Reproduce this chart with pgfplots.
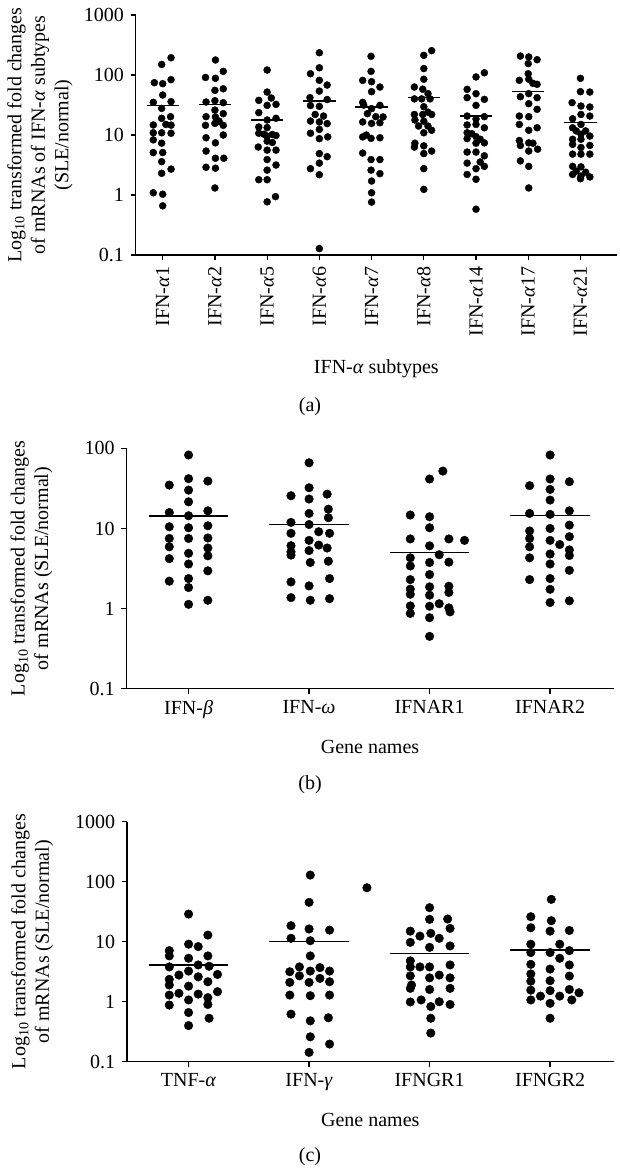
\documentclass[border=0pt]{standalone}
\usepackage{fontspec}
\setmainfont{Liberation Serif}
\usepackage{pgfplots}
\pgfplotsset{compat=1.18}
\usepackage{pgfplotstable}

% panel (a): g = subtype index, dx = horizontal scatter offset, y = fold change
\pgfplotstableread{
g dx y
0 0.16 194
0 -0.02 150
0 -0.16 74.5
0 0 71.7
0 0.16 83.6
0 0 46.4
0 -0.18 35
0 0.16 36
0 -0.02 27.8
0 0.15 20.2
0 -0.02 19
0 -0.18 14.7
0 0.06 15
0 0.16 14.6
0 -0.18 10.9
0 -0.02 10.9
0 0.16 10.7
0 -0.18 8.3
0 -0.02 7.3
0 -0.18 5.1
0 0 5.1
0 -0.02 3.6
0 -0.02 2.3
0 0.16 2.7
0 -0.18 1.09
0 0 1.03
0 0 0.66
1 0.01 178
1 0.16 115
1 -0.18 91
1 0.01 88
1 0.16 59
1 0 55.5
1 -0.17 35.5
1 0 37.3
1 0.16 34.6
1 0 26
1 0.16 22.7
1 -0.17 20.2
1 0.01 20
1 -0.18 14.5
1 0 15.6
1 0.16 14.5
1 0.08 17
1 0.16 10
1 -0.17 9.0
1 0.01 7.4
1 -0.17 5.4
1 0.01 4.1
1 0.17 4.1
1 -0.17 2.9
1 0.01 2.8
1 0 1.31
2 0 121
2 0 52
2 -0.16 37.8
2 0.08 41.4
2 0 31.2
2 0.17 32.4
2 -0.16 23.6
2 0 17.8
2 0.17 19
2 -0.16 13.6
2 0 13.3
2 -0.16 10.7
2 -0.06 10.3
2 0.1 10.2
2 0.17 9.8
2 0 9.6
2 -0.17 6.3
2 0 7.9
2 0.1 7.5
2 0 5.6
2 0.17 5.6
2 0 3.9
2 0.17 3.16
2 0 2.6
2 -0.16 1.8
2 0 1.8
2 0 0.77
2 0.16 0.94
3 0 235
3 0 132
3 -0.17 105
3 0 81.5
3 0.15 68
3 0 54
3 -0.18 42
3 0.15 39
3 -0.17 31
3 0 30
3 -0.08 22
3 0.08 20.7
3 -0.17 17.1
3 0 16.5
3 0.15 15.5
3 0 12.4
3 -0.17 10.7
3 0 8.7
3 0.16 9.3
3 0 4.9
3 0.15 4.35
3 0 3.4
3 -0.17 2.75
3 0 2.18
3 0 0.128
4 -0.01 205
4 -0.01 115
4 -0.17 81.5
4 0 77.4
4 0.16 63
4 0 52.7
4 -0.17 35
4 0.16 31.2
4 -0.15 31.5
4 0 27.5
4 -0.08 22.7
4 0.08 20.2
4 0.22 20
4 -0.17 16.5
4 0 15.6
4 0.16 16
4 -0.17 9.3
4 -0.01 8.8
4 0.16 9.0
4 -0.1 10
4 -0.17 5.0
4 -0.01 3.9
4 0.16 3.9
4 -0.01 2.6
4 0.16 2.27
4 0 1.71
4 0 1.09
4 0 0.76
5 0.15 255
5 0 213
5 0 128
5 0 85
5 -0.18 63
5 -0.02 58
5 0.08 49
5 -0.18 40
5 -0.04 40
5 0.12 40
5 0 29.6
5 -0.18 22
5 -0.02 22
5 0.15 22
5 0.08 24
5 -0.17 17.8
5 0 17
5 -0.1 14.1
5 0.08 14.1
5 0.15 12
5 0 10.9
5 -0.17 7.3
5 -0.18 6.3
5 0 6.6
5 0 4.9
5 0.15 5.4
5 0 2.75
5 0 1.24
6 0.16 109
6 0 92.7
6 -0.17 57.7
6 0 48.9
6 -0.17 41.9
6 0.16 39.3
6 0 31.2
6 -0.17 20.7
6 0.16 20.2
6 0 18.5
6 -0.17 14.7
6 0 15
6 0.16 13.2
6 -0.17 10.9
6 -0.08 10.5
6 0 9.4
6 -0.17 8.7
6 0.08 8.5
6 0.16 7.4
6 0 7.3
6 -0.17 5.2
6 0 5.2
6 0.16 4.5
6 -0.17 3.4
6 0.08 3.55
6 0.16 3.0
6 0 2.75
6 -0.17 2.2
6 0 1.83
6 0 0.58
7 -0.15 207
7 0.01 200
7 0.17 180
7 0 155
7 0 105
7 -0.17 81.5
7 0.01 85
7 0.09 72.6
7 0.17 70
7 0.01 48.9
7 -0.15 43.5
7 0.17 41.9
7 0.01 33.3
7 0.17 26.8
7 -0.17 20.7
7 0.01 20.2
7 -0.17 15
7 0.01 12
7 0.17 13.2
7 -0.17 8.1
7 0.01 7.4
7 -0.15 6.7
7 0.09 7.3
7 0.01 5.4
7 0.18 5.8
7 -0.15 3.7
7 0.01 3.0
7 0.01 1.31
8 0 88
8 0 52.7
8 0.18 52
8 -0.16 34.6
8 0.01 30.4
8 0.18 29.3
8 0.01 22
8 0.18 20.7
8 -0.15 18.7
8 0.01 15
8 -0.15 13.2
8 -0.08 11.7
8 0.1 11.7
8 0.01 10.3
8 0.18 9.6
8 -0.15 8.5
8 0.01 8.5
8 -0.15 7.0
8 0.18 6.7
8 0.01 6.2
8 -0.15 4.8
8 0.01 4.8
8 0.18 4.8
8 -0.15 3.0
8 0.01 2.95
8 -0.08 2.5
8 0.1 2.4
8 -0.15 2.2
8 0.01 2.07
8 0.18 2.0
8 0 1.87
}\dataA

% panel (b)
\pgfplotstableread{
g dx y
0 0 82.5
0 -0.16 34.8
0 0 41.8
0 0.16 39
0 0 30.1
0 0 21.5
0 -0.16 15.8
0 0 14.4
0 0.16 16.6
0 -0.16 10.5
0 0 10.2
0 0.16 10.8
0 -0.16 7.5
0 0 7.5
0 0.16 7.6
0 -0.16 5.9
0 0.16 5.7
0 0 4.9
0 0.16 4.55
0 -0.16 4.2
0 0 3.6
0 0.16 2.96
0 -0.16 2.2
0 0 2.37
0 0 1.83
0 0.16 1.27
0 0 1.13
1 0 66
1 0 32.2
1 -0.15 25.6
1 0.15 26.8
1 0 23.3
1 0.16 17.4
1 0 15.4
1 0.16 13.6
1 -0.15 11.9
1 0 11.2
1 0.08 9.1
1 -0.15 8.7
1 0.17 8.7
1 0 7.1
1 0.08 6.2
1 -0.15 6.1
1 0.15 5.7
1 -0.15 5.1
1 0 5.3
1 -0.15 4.65
1 0.01 3.76
1 0.16 3.9
1 0.17 2.37
1 -0.15 2.15
1 0 1.92
1 -0.15 1.37
1 0.01 1.27
1 0.17 1.33
2 0.11 52
2 0 41.4
2 -0.16 14.7
2 0 14
2 0 10.2
2 -0.16 7.4
2 0.16 7.4
2 0.29 7.1
2 0 6.07
2 0.08 4.7
2 -0.16 4.3
2 0.16 3.8
2 0 3.76
2 -0.16 3.4
2 0 2.66
2 -0.16 2.3
2 0 1.87
2 0.16 1.9
2 -0.16 1.75
2 -0.16 1.51
2 0 1.47
2 0.16 1.59
2 0.08 1.15
2 -0.16 1.08
2 0 1.07
2 0.16 1.02
2 -0.16 0.87
2 0.17 0.91
2 0 0.77
2 0 0.45
3 0 82.5
3 -0.17 34.2
3 0 41.4
3 0.16 38.3
3 0 30.7
3 0 22.6
3 -0.17 15.4
3 0 15
3 0.16 16.6
3 -0.17 9.3
3 0 10
3 0.16 11
3 -0.17 7.5
3 0 7.1
3 0.16 7.9
3 -0.17 5.9
3 0.08 6.3
3 0.16 5.4
3 0 4.8
3 0.16 4.6
3 -0.17 4.3
3 0 3.6
3 0.16 3.0
3 -0.17 2.3
3 0 2.37
3 0 1.74
3 0 1.19
3 0.16 1.25
}\dataB

% panel (c)
\pgfplotstableread{
g dx y
0 0 28.9
0 0.16 12.9
0 0 9.1
0 0.08 8.3
0 -0.16 7.1
0 -0.16 5.8
0 0 5.3
0 0.16 5.8
0 0.08 4.1
0 -0.16 3.8
0 0.17 3.9
0 0 3.24
0 -0.08 2.78
0 0.24 2.85
0 0.08 2.6
0 -0.16 2.36
0 0.16 2.15
0 -0.16 1.9
0 0 1.82
0 -0.08 1.38
0 -0.16 1.29
0 0.08 1.34
0 0.24 1.47
0 0.16 1.17
0 0 1.07
0 -0.16 0.88
0 0.16 0.9
0 0 0.66
0 0.17 0.53
0 0 0.40
1 0.01 129
1 0.48 79.4
1 0 45.3
1 -0.15 18.5
1 0 16.3
1 0.17 15.6
1 -0.15 11.4
1 0.01 10.4
1 0.01 5.8
1 -0.08 3.8
1 0.09 3.7
1 -0.16 3.16
1 0.01 3.24
1 0.17 3.24
1 -0.08 2.7
1 0.09 2.45
1 -0.16 2.1
1 0 2.1
1 0.17 2.15
1 -0.16 1.29
1 0.01 1.26
1 0.17 1.29
1 -0.15 0.62
1 0.01 0.48
1 0.16 0.54
1 0.01 0.26
1 0.17 0.197
1 0 0.143
2 0 36.9
2 0 23.6
2 0.15 23.9
2 0.17 16.7
2 -0.16 15
2 0.01 13.8
2 -0.08 12.4
2 0.08 11.4
2 -0.16 9.75
2 0.17 8.5
2 0 8.05
2 -0.16 4.8
2 0.17 4.1
2 -0.16 3.8
2 -0.08 3.8
2 0 3.8
2 0.08 2.78
2 -0.16 2.7
2 0 2.5
2 0.17 2.5
2 -0.15 1.9
2 -0.16 1.67
2 0 1.6
2 0.17 1.67
2 -0.16 0.99
2 -0.07 1.07
2 0.08 1.0
2 0.17 0.9
2 0.01 0.83
2 0.01 0.53
2 0.01 0.30
3 0.01 50.8
3 -0.16 26.1
3 0.01 22.4
3 -0.16 17.1
3 0 15
3 0.16 15.4
3 -0.16 9.1
3 0.08 9.1
3 -0.16 6.6
3 0 6.6
3 0.16 7.1
3 0.08 5.3
3 -0.16 4.2
3 0.16 4.1
3 0 3.5
3 -0.16 2.9
3 0.16 2.68
3 -0.16 2.2
3 0 2.24
3 -0.16 1.56
3 0 1.53
3 0.16 1.6
3 0.24 1.41
3 -0.08 1.24
3 0.08 1.24
3 -0.16 1.07
3 0.18 1.07
3 0 0.94
3 0 0.53
}\dataC

\pgfplotsset{
  mypanel/.style={
    scale only axis,
    anchor=south west,
    axis x line*=bottom,
    axis y line*=left,
    axis line style={line width=1.2pt, black},
    tick style={line width=1.2pt, black},
    tick align=outside,
    major tick length=5pt,
    yminorticks=false,
    ytick={0.1,1,10,100,1000},
    yticklabels={0.1,1,10,100,1000},
    clip=false,
    ylabel style={align=center, anchor=center, rotate=0},
    xlabel style={anchor=center},
  },
  meanline/.style={black, line width=1.3pt},
}

\begin{document}
\fontsize{20pt}{23.5pt}\selectfont
\begin{tikzpicture}
\useasboundingbox (0,0) rectangle (619pt,-1168pt);

% ---------------- (a)
\begin{axis}[ymode=log, mypanel,
  /pgf/number format/assume math mode=true,
  at={(135.7pt,-255pt)}, width=481.3pt, height=240pt,
  xmin=-0.517, xmax=8.70, ymin=0.1, ymax=1000,
  xtick={0,...,8},
  xticklabels={IFN-\textit{α}1,IFN-\textit{α}2,IFN-\textit{α}5,IFN-\textit{α}6,IFN-\textit{α}7,IFN-\textit{α}8,IFN-\textit{α}14,IFN-\textit{α}17,IFN-\textit{α}21},
  xticklabel style={rotate=90, anchor=east},
  xlabel={IFN-\textit{α} subtypes},
  xlabel style={at={(axis description cs:0.5,-0.475)}},
  ylabel={Log\textsubscript{10} transformed fold changes\\of mRNAs of IFN-\textit{α} subtypes\\(SLE/normal)},
  ylabel style={at={(axis description cs:-0.199,0.5)}},
]
\addplot[only marks, mark=*, mark size=3.5pt, black] table[x expr=\thisrow{g}+\thisrow{dx}, y=y]{\dataA};
\addplot[meanline] coordinates {(-0.31,31.2) (0.31,31.2)};
\addplot[meanline] coordinates {(0.69,32.4) (1.31,32.4)};
\addplot[meanline] coordinates {(1.69,17.8) (2.31,17.8)};
\addplot[meanline] coordinates {(2.69,36.9) (3.31,36.9)};
\addplot[meanline] coordinates {(3.69,29.3) (4.31,29.3)};
\addplot[meanline] coordinates {(4.69,42.4) (5.31,42.4)};
\addplot[meanline] coordinates {(5.69,20.7) (6.31,20.7)};
\addplot[meanline] coordinates {(6.69,53.5) (7.31,53.5)};
\addplot[meanline] coordinates {(7.69,16) (8.31,16)};
\end{axis}
\node at (310pt,-407pt) {(a)};

% ---------------- (b)
\begin{axis}[ymode=log, mypanel,
  /pgf/number format/assume math mode=true,
  at={(126.5pt,-688.7pt)}, width=487.1pt, height=240.4pt,
  xmin=-0.515, xmax=3.527, ymin=0.1, ymax=100,
  xtick={0,...,3},
  xticklabels={IFN-\textit{β},IFN-\textit{ω},IFNAR1,IFNAR2},
  xlabel={Gene names},
  xlabel style={at={(axis description cs:0.5,-0.241)}},
  ylabel={Log\textsubscript{10} transformed fold changes\\of mRNAs (SLE/normal)},
  ylabel style={at={(axis description cs:-0.195,0.5)}},
]
\addplot[only marks, mark=*, mark size=4.3pt, black] table[x expr=\thisrow{g}+\thisrow{dx}, y=y]{\dataB};
\addplot[meanline] coordinates {(-0.33,14.3) (0.33,14.3)};
\addplot[meanline] coordinates {(0.67,11.3) (1.33,11.3)};
\addplot[meanline] coordinates {(1.67,5.0) (2.33,5.0)};
\addplot[meanline] coordinates {(2.67,14.4) (3.33,14.4)};
\end{axis}
\node at (310pt,-785pt) {(b)};

% ---------------- (c)
\begin{axis}[ymode=log, mypanel,
  /pgf/number format/assume math mode=true,
  at={(127pt,-1061.7pt)}, width=486.6pt, height=240pt,
  xmin=-0.511, xmax=3.527, ymin=0.1, ymax=1000,
  xtick={0,...,3},
  xticklabels={TNF-\textit{α},IFN-\textit{γ},IFNGR1,IFNGR2},
  xlabel={Gene names},
  xlabel style={at={(axis description cs:0.5,-0.243)}},
  ylabel={Log\textsubscript{10} transformed fold changes\\of mRNAs (SLE/normal)},
  ylabel style={at={(axis description cs:-0.195,0.5)}},
]
\addplot[only marks, mark=*, mark size=4.3pt, black] table[x expr=\thisrow{g}+\thisrow{dx}, y=y]{\dataC};
\addplot[meanline] coordinates {(-0.33,4.1) (0.33,4.1)};
\addplot[meanline] coordinates {(0.67,10) (1.33,10)};
\addplot[meanline] coordinates {(1.67,6.4) (2.33,6.4)};
\addplot[meanline] coordinates {(2.67,7.3) (3.33,7.3)};
\end{axis}
\node at (310pt,-1157pt) {(c)};
\end{tikzpicture}
\end{document}
